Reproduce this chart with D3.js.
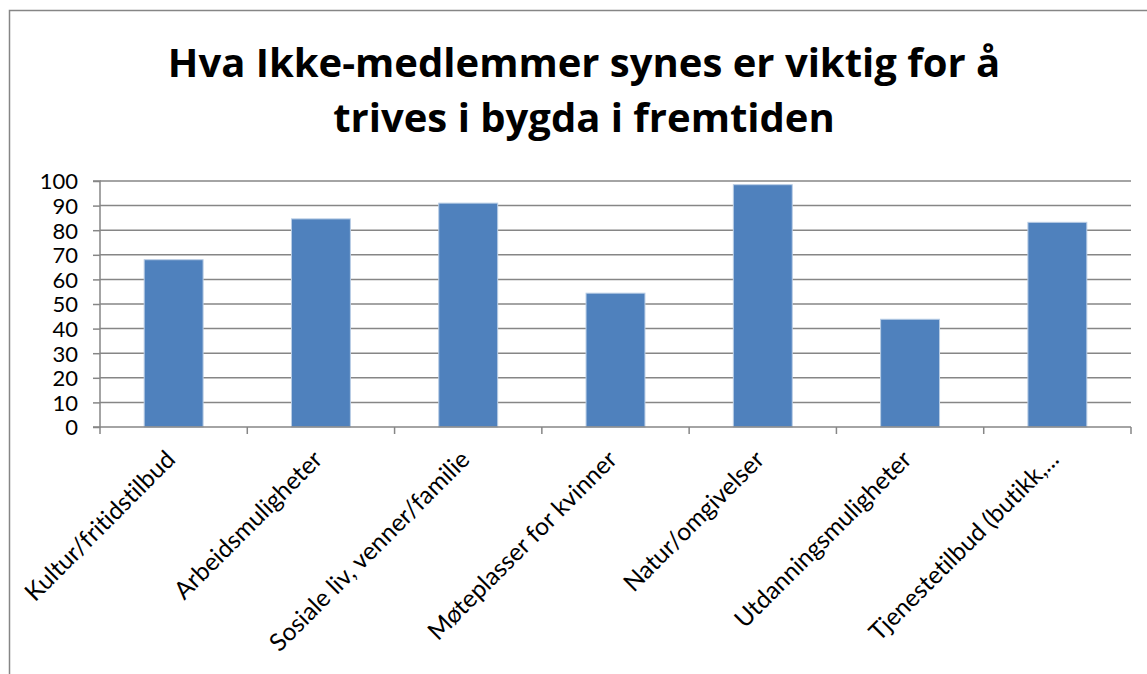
<!DOCTYPE html>
<html>
<head>
<meta charset="utf-8">
<script src="https://cdn.jsdelivr.net/npm/d3@7"></script>
<style>
  body { margin: 0; background: #fff; }
  .chart text { font-family: Lato, "Open Sans", sans-serif; fill: #000; font-variant-ligatures: none; }
</style>
</head>
<body>
<div class="chart"></div>
<script>
const categories = ['Kultur/fritidstilbud', 'Arbeidsmuligheter', 'Sosiale liv, venner/familie',
    'Møteplasser for kvinner', 'Natur/omgivelser', 'Utdanningsmuligheter', 'Tjenestetilbud (butikk,...'];
const values = [68, 84.6, 91, 54.4, 98.5, 43.8, 83.2];
const yTicks = [0, 10, 20, 30, 40, 50, 60, 70, 80, 90, 100];
const titleLines = ['Hva Ikke-medlemmer synes er viktig for å', 'trives i bygda i fremtiden'];

chart();

function chart() {
    const W = 1147, H = 674;
    const margin = {top:181, left:100, bottom:247, right:16};
    const width = W - margin.left - margin.right;
    const height = H - margin.top - margin.bottom;

    const root = d3.select('.chart')
        .append('svg')
        .attr('width', W)
        .attr('height', H);

    // chart frame (runs past the right and bottom edges)
    root.append('rect')
        .attr('x', 9.5).attr('y', 10.5)
        .attr('width', W + 20).attr('height', H + 20)
        .style('fill', 'none')
        .style('stroke', '#868686')
        .style('stroke-width', 1.5);

    root.selectAll('.title')
        .data(titleLines)
        .enter()
        .append('text')
        .attr('x', 584)
        .attr('y', (d,i) => 77 + i*55)
        .attr('text-anchor', 'middle')
        .style('font-family', '"Open Sans", Lato, sans-serif')
        .style('font-weight', 'bold')
        .style('font-size', '40px')
        .text(d => d);

    const svg = root.append('g')
        .attr('transform', 'translate('+margin.left+','+margin.top+')');

    const xScale = d3.scaleBand()
        .domain(categories)
        .range([0, width])
        .paddingInner(0.6)
        .paddingOuter(0.3);

    const yScale = d3.scaleLinear()
        .domain([0, 100])
        .range([height, 0]);

    // gridlines
    svg.selectAll('.grid')
        .data(yTicks.slice(1))
        .enter()
        .append('line')
        .attr('x1', 0).attr('x2', width)
        .attr('y1', d => yScale(d)).attr('y2', d => yScale(d))
        .style('stroke', '#868686')
        .style('stroke-width', 1.5);

    svg.selectAll('.bar')
        .data(values)
        .enter()
        .append('rect')
        .attr('x', (d,i) => xScale(categories[i]))
        .attr('y', d => yScale(d))
        .attr('width', xScale.bandwidth())
        .attr('height', d => height - yScale(d))
        .style('fill', '#4f81bd')
        .style('stroke', '#b9cde5')
        .style('stroke-width', 1);

    const yAxis = d3.axisLeft(yScale)
        .tickValues(yTicks)
        .tickSize(7)
        .tickPadding(15);

    const gy = svg.append('g').call(yAxis);
    gy.selectAll('path, line').style('stroke', '#868686').style('stroke-width', 1.5);
    gy.select('.domain').attr('d', 'M-7,' + (height) + 'H0V0H-7');
    gy.selectAll('text').style('font-size', '22px').attr('dy', '0.36em');

    // category boundaries on x axis
    const step = xScale.step();
    const gx = svg.append('g').attr('transform', `translate(0, ${height})`);
    gx.append('line')
        .attr('x1', 0).attr('x2', width)
        .style('stroke', '#868686').style('stroke-width', 1.5);
    gx.selectAll('.xtick')
        .data(d3.range(categories.length + 1))
        .enter()
        .append('line')
        .attr('x1', d => d*step).attr('x2', d => d*step)
        .attr('y1', 0).attr('y2', 7)
        .style('stroke', '#868686').style('stroke-width', 1.5);

    gx.selectAll('.xlabel')
        .data(categories)
        .enter()
        .append('text')
        .attr('text-anchor', 'end')
        .attr('transform', d => `translate(${xScale(d) + xScale.bandwidth()/2 + 3}, 34) rotate(-45)`)
        .style('font-size', '24.5px')
        .text(d => d);
}
</script>
</body>
</html>
